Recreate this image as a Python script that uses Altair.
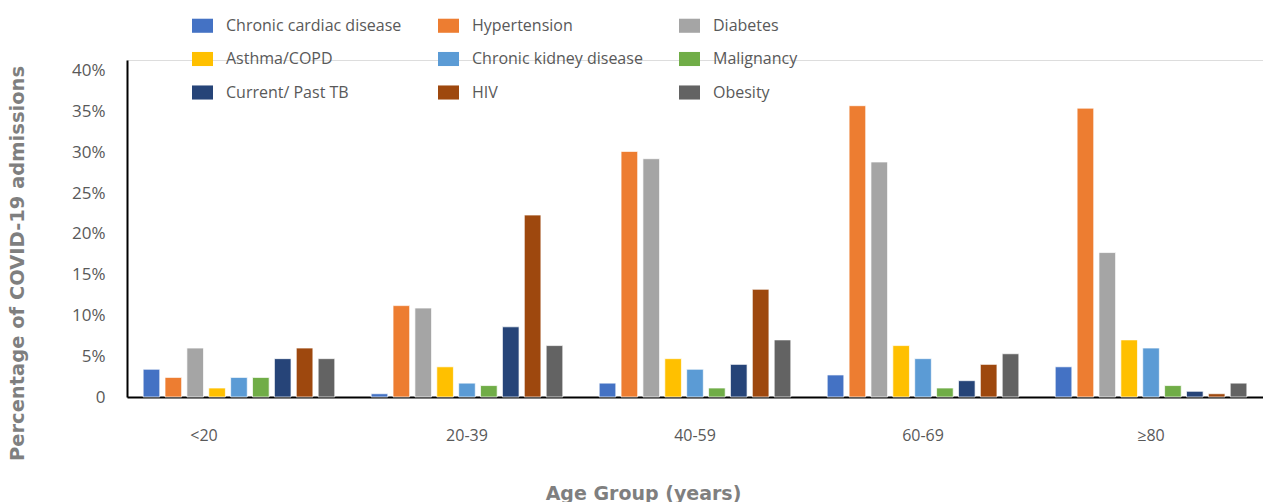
import altair as alt
import pandas as pd

# Age groups and comorbidity series (share of COVID-19 admissions)
age_groups = ["<20", "20-39", "40-59", "60-69", "≥80"]
conditions = [
    "Chronic cardiac disease", "Hypertension", "Diabetes",
    "Asthma/COPD", "Chronic kidney disease", "Malignancy",
    "Current/ Past TB", "HIV", "Obesity",
]
colors = [
    "#4472C4", "#ED7D31", "#A5A5A5",
    "#FFC000", "#5B9BD5", "#70AD47",
    "#264478", "#9E480E", "#636363",
]

chronic_cardiac = [0.034, 0.004, 0.017, 0.027, 0.037]
hypertension    = [0.024, 0.112, 0.301, 0.357, 0.354]
diabetes        = [0.060, 0.109, 0.292, 0.288, 0.177]
asthma_copd     = [0.011, 0.037, 0.047, 0.063, 0.070]
chronic_kidney  = [0.024, 0.017, 0.034, 0.047, 0.060]
malignancy      = [0.024, 0.014, 0.011, 0.011, 0.014]
tb              = [0.047, 0.086, 0.040, 0.020, 0.007]
hiv             = [0.060, 0.223, 0.132, 0.040, 0.004]
obesity         = [0.047, 0.063, 0.070, 0.053, 0.017]

series = [chronic_cardiac, hypertension, diabetes, asthma_copd,
          chronic_kidney, malignancy, tb, hiv, obesity]

rows = []
for cond, vals in zip(conditions, series):
    for grp, v in zip(age_groups, vals):
        rows.append({"age": grp, "condition": cond, "share": v})
df = pd.DataFrame(rows)

# The legend grid fills column by column; reorder so it reads across rows
legend_order = [conditions[r * 3 + c] for c in range(3) for r in range(3)]
legend_colors = [colors[conditions.index(c)] for c in legend_order]

font = "Open Sans"
title_font = "DejaVu Sans"
grey = "#595959"

chart = (
    alt.Chart(df)
    .mark_bar(stroke="white", strokeWidth=1, strokeOpacity=0.7)
    .encode(
        x=alt.X(
            "age:N",
            sort=age_groups,
            scale=alt.Scale(paddingInner=0.15, paddingOuter=0.066),
            axis=alt.Axis(
                title="Age Group (years)",
                titleFont=title_font, titleFontSize=19, titleFontWeight="bold",
                titleColor="#7f7f7f",
                titleX=516, titleY=96, titleBaseline="middle",
                labelFont=font, labelFontSize=16, labelColor=grey,
                labelAngle=0, labelPadding=30,
                labelOffset={"condition": {"test": "datum.value === '<20'", "value": -35},
                             "value": 0},
                ticks=False, domainColor="#000000", domainWidth=2,
            ),
        ),
        xOffset=alt.XOffset(
            "condition:N", sort=conditions,
            scale=alt.Scale(paddingInner=0.24, paddingOuter=0.05),
        ),
        y=alt.Y(
            "share:Q",
            scale=alt.Scale(domain=[0, 0.413], nice=False, zero=True),
            axis=alt.Axis(
                title="Percentage of COVID-19 admissions",
                titleFont=title_font, titleFontSize=19.5, titleFontWeight="bold",
                titleColor="#7f7f7f",
                titleX=-110, titleY=203, titleBaseline="middle",
                values=[0, 0.05, 0.10, 0.15, 0.20, 0.25, 0.30, 0.35, 0.40],
                labelExpr="datum.value == 0 ? '0' : format(datum.value, '.0%')",
                labelFont=font, labelFontSize=17, labelColor=grey,
                labelPadding=22,
                ticks=False, grid=False,
                domainColor="#000000", domainWidth=2,
            ),
        ),
        color=alt.Color(
            "condition:N",
            scale=alt.Scale(domain=legend_order, range=legend_colors),
            legend=alt.Legend(
                title=None, orient="none", legendX=65, legendY=-45,
                columns=3, columnPadding=36, rowPadding=14.5,
                symbolType="M-1,-0.67L1,-0.67L1,0.67L-1,0.67Z",
                symbolSize=441, symbolStrokeWidth=0,
                labelFont=font, labelFontSize=16, labelColor=grey,
                labelOffset=13, labelLimit=300,
            ),
        ),
    )
    .properties(
        width=1136, height=337,
        padding={"left": 127, "top": 60, "right": 0, "bottom": 105},
        autosize=alt.AutoSizeParams(type="none"),
    )
    .configure_view(stroke=None)
    .configure(background="white")
)

chart.save("out.html", embed_options={"renderer": "svg", "actions": False})
